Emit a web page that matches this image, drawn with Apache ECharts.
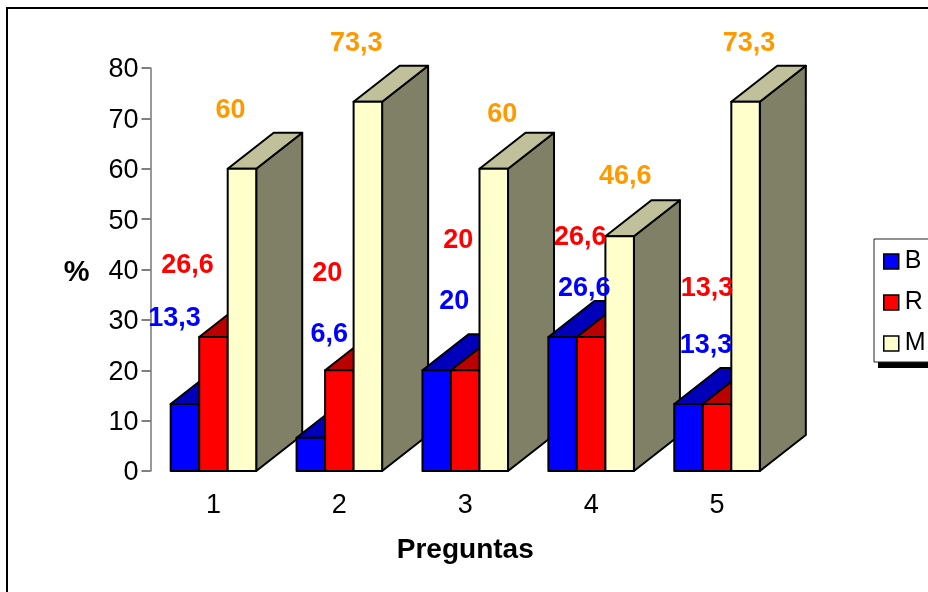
<!DOCTYPE html>
<html>
<head>
<meta charset="utf-8">
<style>html,body{margin:0;padding:0;background:#fff}#c{width:928px;height:592px}</style>
<script src="https://cdn.jsdelivr.net/npm/echarts@6/dist/echarts.min.js"></script>
</head>
<body>
<div id="c"></div>
<script>
const categories = ['1', '2', '3', '4', '5'];
const valuesB = [13.3, 6.6, 20, 26.6, 13.3];
const valuesR = [26.6, 20, 20, 26.6, 13.3];
const valuesM = [60, 73.3, 60, 46.6, 73.3];
const yTicks = { min: 0, max: 80, interval: 10 };

// label nudges (dx, dy) from the band centre at the bar's value height
const nudgesB = [[-39, -85], [-10, -103], [-11, -69], [-7, -48], [-11, -58]];
const nudgesR = [[-26, -71], [-12, -97], [-7, -130], [-11, -99], [-10, -115]];
const nudgesM = [[17, -58], [17, -58], [37, -54], [34, -60], [32, -58]];

const barFraction = 0.2265;
const depthX = 46, depthY = -36;
const FONT = '"Liberation Sans", Arial, sans-serif';

const chart = echarts.init(document.getElementById('c'), null, { renderer: 'canvas' });

function bar3d(slot, colors, nudges, labelColor) {
  return function (params, api) {
    const cat = api.value(0), val = api.value(1);
    const top = api.coord([cat, val]);
    const base = api.coord([cat, 0]);
    const w = api.size([1, 0])[0] * barFraction;
    const x0 = top[0] + (slot - 1.5) * w, x1 = x0 + w;
    const yt = top[1], yb = base[1];
    const z = params.dataIndex * 20 + slot * 4;
    const line = { stroke: '#000', lineWidth: 2, lineJoin: 'round' };
    const n = nudges[params.dataIndex];
    return {
      type: 'group',
      children: [
        { type: 'polygon', z2: z + 1, shape: { points: [[x1, yt], [x1 + depthX, yt + depthY], [x1 + depthX, yb + depthY], [x1, yb]] }, style: Object.assign({ fill: colors[2] }, line) },
        { type: 'polygon', z2: z + 2, shape: { points: [[x0, yt], [x0 + depthX, yt + depthY], [x1 + depthX, yt + depthY], [x1, yt]] }, style: Object.assign({ fill: colors[1] }, line) },
        { type: 'rect', z2: z + 3, shape: { x: x0, y: yt, width: w, height: yb - yt }, style: Object.assign({ fill: colors[0] }, line) },
        { type: 'text', z2: 1000, style: { x: top[0] + n[0], y: yt + n[1], text: String(val).replace('.', ','), fill: labelColor, font: 'bold 27px ' + FONT, align: 'center', verticalAlign: 'middle' } }
      ]
    };
  };
}

function makeSeries(name, values, slot, colors, nudges, labelColor) {
  return {
    name: name,
    type: 'custom',
    coordinateSystem: 'cartesian2d',
    encode: { x: 0, y: 1 },
    itemStyle: { color: colors[0] },
    clip: false,
    data: values.map((v, i) => [i, v]),
    renderItem: bar3d(slot, colors, nudges, labelColor)
  };
}

chart.setOption({
  animation: false,
  backgroundColor: '#fff',
  grid: { left: 150.5, top: 68, width: 629.5, height: 403, containLabel: false },
  xAxis: {
    type: 'category',
    data: categories,
    axisLine: { show: false },
    axisTick: { show: false },
    axisLabel: { color: '#000', fontFamily: FONT, fontSize: 27, margin: 21 },
    name: 'Preguntas',
    nameLocation: 'middle',
    nameGap: 65,
    nameTextStyle: { color: '#000', fontFamily: FONT, fontWeight: 'bold', fontSize: 28 }
  },
  yAxis: {
    type: 'value',
    min: yTicks.min, max: yTicks.max, interval: yTicks.interval,
    splitLine: { show: false },
    axisLine: { show: true, lineStyle: { color: '#777', width: 1.5 } },
    axisTick: { show: true, length: 9, lineStyle: { color: '#555', width: 1.5 } },
    axisLabel: { color: '#000', fontFamily: FONT, fontSize: 27, margin: 12, verticalAlign: 'top', lineHeight: 4 },
    name: '%',
    nameLocation: 'middle',
    nameRotate: 0,
    nameGap: 61,
    nameTextStyle: { color: '#000', fontFamily: FONT, fontWeight: 'bold', fontSize: 29, verticalAlign: 'top', lineHeight: 6 }
  },
  legend: {
    show: true,
    orient: 'vertical',
    left: 874, top: 239,
    padding: [10, 12, 6, 9],
    itemWidth: 15, itemHeight: 15, itemGap: 16,
    icon: 'rect',
    selectedMode: false,
    backgroundColor: '#fff',
    borderColor: '#222', borderWidth: 1,
    itemStyle: { borderColor: '#000', borderWidth: 1.5 },
    textStyle: { color: '#000', fontFamily: FONT, fontSize: 25, padding: [2, 0, 0, 1] },
    data: ['B', 'R', 'M']
  },
  graphic: [
    { type: 'rect', z: -1, silent: true, shape: { x: 7, y: 8, width: 1000, height: 1000 }, style: { fill: 'none', stroke: '#000', lineWidth: 2 } },
    { type: 'rect', z: -1, silent: true, shape: { x: 878, y: 362, width: 80, height: 6 }, style: { fill: '#000' } }
  ],
  series: [
    makeSeries('B', valuesB, 0, ['#0000ff', '#0000bb', '#000080'], nudgesB, '#0000ff'),
    makeSeries('R', valuesR, 1, ['#ff0000', '#bb0000', '#800000'], nudgesR, '#ff0000'),
    makeSeries('M', valuesM, 2, ['#ffffcc', '#c0c09a', '#808066'], nudgesM, '#ff9900')
  ]
});
</script>
</body>
</html>
